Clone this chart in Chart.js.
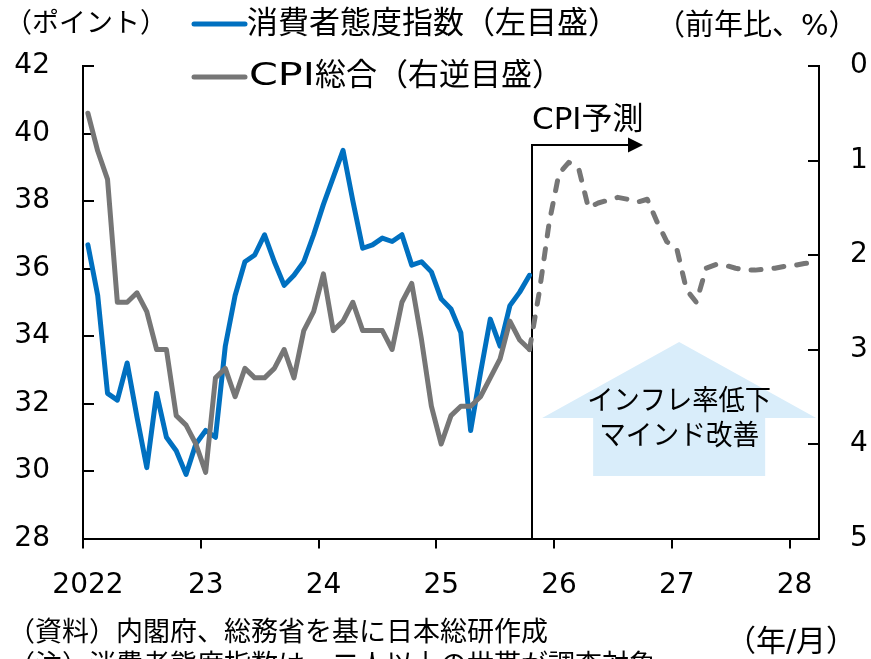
<!DOCTYPE html>
<html><head><meta charset="utf-8">
<script src="https://cdn.jsdelivr.net/npm/chart.js@4"></script>
<style>html,body{margin:0;padding:0;background:#fff}#wrap{width:871px;height:659px;position:relative}</style>
</head><body><div id="wrap"><canvas id="c" width="871" height="659"></canvas></div>
<script>
// ---- data ----
const yearLabels = ['2022', '23', '24', '25', '26', '27', '28'];
// monthly, 2022-01 .. 2025-10
const consumerConfidence = [36.7, 35.2, 32.3, 32.1, 33.2, 31.6, 30.1, 32.3, 31.0, 30.6, 29.9, 30.8,
  31.2, 31.0, 33.7, 35.2, 36.2, 36.4, 37.0, 36.2, 35.5, 35.8, 36.2, 37.0,
  37.9, 38.7, 39.5, 38.0, 36.6, 36.7, 36.9, 36.8, 37.0, 36.1, 36.2, 35.9,
  35.1, 34.8, 34.1, 31.2, 32.9, 34.5, 33.7, 34.9, 35.3, 35.8];
// CPI y/y %, 2022-01 .. 2025-10
const cpiActual = [0.5, 0.9, 1.2, 2.5, 2.5, 2.4, 2.6, 3.0, 3.0, 3.7, 3.8, 4.0,
  4.3, 3.3, 3.2, 3.5, 3.2, 3.3, 3.3, 3.2, 3.0, 3.3, 2.8, 2.6,
  2.2, 2.8, 2.7, 2.5, 2.8, 2.8, 2.8, 3.0, 2.5, 2.3, 2.9, 3.6,
  4.0, 3.7, 3.6, 3.6, 3.5, 3.3, 3.1, 2.7, 2.9, 3.0];
// CPI forecast, 2025-10 .. 2028-03
const cpiForecast = [3.0, 2.39, 1.66, 1.14, 1.02, 1.08, 1.50, 1.45, 1.42, 1.39, 1.41, 1.44, 1.41,
  1.65, 1.86, 1.93, 2.37, 2.50, 2.14, 2.10, 2.11, 2.14, 2.16, 2.16, 2.15, 2.14, 2.12, 2.11, 2.09, 2.08];
const forecastStartIndex = 45;
const totalMonths = 75;

const BLUE = '#0070C0', GRAY = '#767676';
const FONT = "'DejaVu Sans', 'Noto Sans CJK JP', sans-serif";

const toPts = (arr, off) => arr.map((v, i) => ({ x: off + i + 0.5, y: v }));

// draw runs of text: [{t, size, w}] ; w = optional target width (horizontal scaling)
function runs(ctx, parts, x, y, align) {
  ctx.save();
  ctx.fillStyle = '#000';
  ctx.textBaseline = 'middle';
  ctx.textAlign = 'left';
  const widths = parts.map(p => { ctx.font = p.size + 'px ' + FONT; return p.w || ctx.measureText(p.t).width; });
  const total = widths.reduce((a, b) => a + b, 0);
  let cx = align === 'center' ? x - total / 2 : x;
  parts.forEach((p, i) => {
    ctx.font = p.size + 'px ' + FONT;
    const nat = ctx.measureText(p.t).width;
    ctx.save();
    ctx.translate(cx, y);
    if (p.w) ctx.scale(p.w / nat, 1);
    ctx.fillText(p.t, 0, 0);
    ctx.restore();
    cx += widths[i];
  });
  ctx.restore();
}

const decor = {
  id: 'decor',
  beforeDatasetsDraw(chart) {
    const ctx = chart.ctx, ca = chart.chartArea;
    const xs = chart.scales.x;
    // big light-blue arrow
    const cx = xs.getPixelForValue(60.75);
    ctx.save();
    ctx.fillStyle = '#d9edfa';
    ctx.beginPath();
    ctx.moveTo(cx, 342);
    ctx.lineTo(cx + 137, 418);
    ctx.lineTo(cx + 86, 418);
    ctx.lineTo(cx + 86, 476);
    ctx.lineTo(cx - 86, 476);
    ctx.lineTo(cx - 86, 418);
    ctx.lineTo(cx - 137, 418);
    ctx.closePath();
    ctx.fill();
    ctx.restore();
    runs(ctx, [{ t: 'インフレ率低下', size: 28, w: 184 }], cx, 403, 'center');
    runs(ctx, [{ t: 'マインド改善', size: 28, w: 160 }], cx, 438, 'center');

    // forecast marker
    const vx = Math.round(xs.getPixelForValue(forecastStartIndex + 0.5)) + 2;
    ctx.save();
    ctx.strokeStyle = '#000'; ctx.lineWidth = 2;
    ctx.beginPath();
    ctx.moveTo(vx, ca.bottom); ctx.lineTo(vx, 145); ctx.lineTo(vx + 98, 145);
    ctx.stroke();
    ctx.fillStyle = '#000';
    ctx.beginPath();
    ctx.moveTo(vx + 111, 145); ctx.lineTo(vx + 96, 137.5); ctx.lineTo(vx + 96, 152.5); ctx.closePath();
    ctx.fill();
    ctx.restore();
    runs(ctx, [{ t: 'CPI', size: 31 }, { t: '予測', size: 31 }], vx, 121);

    // inward ticks on y axes
    ctx.save();
    ctx.strokeStyle = '#000'; ctx.lineWidth = 2;
    const yl = chart.scales.yL, yr = chart.scales.yR;
    yl.ticks.forEach(t => {
      const y = Math.round(yl.getPixelForValue(t.value));
      ctx.beginPath(); ctx.moveTo(ca.left, y); ctx.lineTo(ca.left + 11, y); ctx.stroke();
    });
    yr.ticks.forEach(t => {
      const y = Math.round(yr.getPixelForValue(t.value));
      ctx.beginPath(); ctx.moveTo(ca.right, y); ctx.lineTo(ca.right - 11, y); ctx.stroke();
    });
    ctx.restore();
  },
  afterDraw(chart) {
    const ctx = chart.ctx;
    // axis titles
    runs(ctx, [{ t: '（ポイント）', size: 27 }], 5, 25);
    runs(ctx, [{ t: '（前年比、%）', size: 29 }], 656, 27);
    // legend
    ctx.save();
    ctx.lineWidth = 5; ctx.lineCap = 'round';
    ctx.strokeStyle = BLUE;
    ctx.beginPath(); ctx.moveTo(194, 24); ctx.lineTo(245, 24); ctx.stroke();
    ctx.strokeStyle = GRAY;
    ctx.beginPath(); ctx.moveTo(194, 77); ctx.lineTo(245, 77); ctx.stroke();
    ctx.restore();
    runs(ctx, [{ t: '消費者態度指数（左目盛）', size: 31 }], 247, 25);
    runs(ctx, [{ t: 'CPI', size: 32, w: 66 }, { t: '総合（右逆目盛）', size: 31 }], 249, 77);
    // footer
    runs(ctx, [{ t: '（資料）内閣府、総務省を基に日本総研作成', size: 27 }], 8, 634);
    runs(ctx, [{ t: '（注）消費者態度指数は、二人以上の世帯が調査対象', size: 27 }], 8, 667);
    runs(ctx, [{ t: '（年/月）', size: 30 }], 726, 643);
  }
};

new Chart(document.getElementById('c'), {
  type: 'line',
  data: {
    datasets: [
      { label: 'CPI総合（右逆目盛）', data: toPts(cpiActual, 0), yAxisID: 'yR', borderColor: GRAY,
        borderWidth: 5, pointRadius: 0, tension: 0, borderJoinStyle: 'round', borderCapStyle: 'round', order: 0 },
      { label: 'CPI予測', data: toPts(cpiForecast, forecastStartIndex), yAxisID: 'yR', borderColor: GRAY,
        borderWidth: 5, pointRadius: 0, tension: 0, borderDash: [10, 13], borderCapStyle: 'round',
        borderJoinStyle: 'round', order: 0 },
      { label: '消費者態度指数（左目盛）', data: toPts(consumerConfidence, 0), yAxisID: 'yL', borderColor: BLUE,
        borderWidth: 5, pointRadius: 0, tension: 0, borderJoinStyle: 'round', borderCapStyle: 'round', order: 1 }
    ]
  },
  options: {
    responsive: false, animation: false, devicePixelRatio: 1,
    layout: { padding: { left: 0, right: 0, top: 66, bottom: 0 } },
    plugins: { legend: { display: false }, tooltip: { enabled: false } },
    scales: {
      x: {
        type: 'linear', min: 0, max: totalMonths,
        afterBuildTicks: s => { s.ticks = yearLabels.map((l, i) => ({ value: i * 12 })); },
        afterFit: s => { s.height = 120.5; },
        ticks: { callback: v => yearLabels[v / 12], font: { size: 28, family: FONT }, color: '#000',
          padding: 20, labelOffset: 5, maxRotation: 0, autoSkip: false },
        grid: { display: true, drawOnChartArea: false, drawTicks: true, tickLength: 10, color: '#000', lineWidth: 2 },
        border: { display: true, color: '#000', width: 2 }
      },
      yL: {
        position: 'left', min: 28, max: 42,
        afterFit: s => { s.width = 83; },
        ticks: { stepSize: 2, font: { size: 28, family: FONT }, color: '#000', padding: 33 },
        grid: { display: false, drawTicks: false },
        border: { display: true, color: '#000', width: 2 }
      },
      yR: {
        position: 'right', min: 0, max: 5, reverse: true,
        afterFit: s => { s.width = 52; },
        ticks: { stepSize: 1, font: { size: 28, family: FONT }, color: '#000', padding: 31 },
        grid: { display: false, drawTicks: false },
        border: { display: true, color: '#000', width: 2 }
      }
    }
  },
  plugins: [decor]
});
</script>
</body></html>
